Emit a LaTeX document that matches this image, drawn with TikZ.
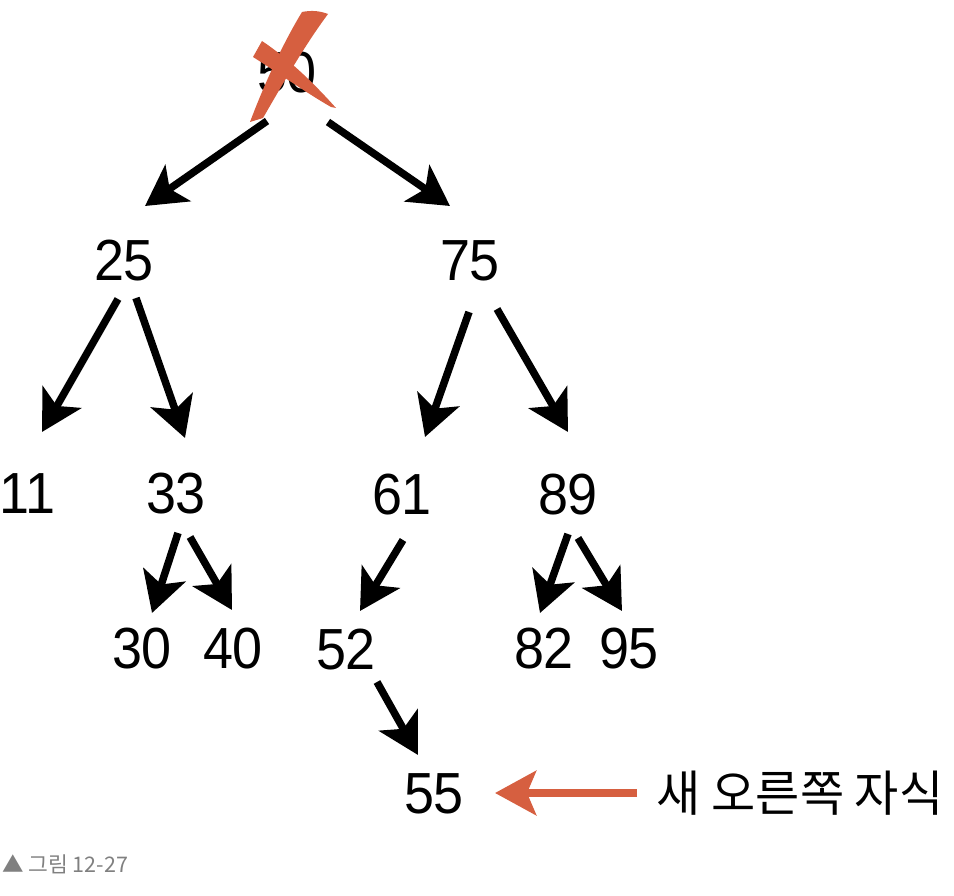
\documentclass[tikz,border=0pt]{standalone}
\usepackage{fontspec}
\usetikzlibrary{arrows.meta,calc}
\newfontfamily\digfont[FakeStretch=0.93]{Liberation Sans}
\newfontfamily\krfont[FakeStretch=0.98]{Noto Sans CJK KR}
\newfontfamily\capfont{Noto Sans CJK KR}
\definecolor{xred}{RGB}{214,95,64}
\definecolor{capgray}{RGB}{128,128,128}
\tikzset{
  num/.style={inner sep=0pt, font=\digfont\fontsize{58}{60}\selectfont},
  arr/.style={line width=7.5pt, -{Stealth[length=40pt,width=44pt,inset=10pt]}},
  redarr/.style={xred, line width=8pt, -{Stealth[length=41pt,width=44pt,inset=9pt]}},
  lbl/.style={inner sep=0pt, font=\krfont\fontsize{49}{52}\selectfont},
  captext/.style={inner sep=0pt, anchor=west, text=capgray, font=\capfont\fontsize{21.5}{23}\selectfont},
}
\begin{document}
\begin{tikzpicture}[x=1pt,y=-1pt]
\useasboundingbox (0,0) rectangle (954,896);
% nodes
\node[num] (n50) at (287,73) {50};
\node[num] (n25) at (124,261) {25};
\node[num] (n75) at (470,261) {75};
\node[num] (n11) at (27,494) {11};
\node[num] (n33) at (176,494) {33};
\node[num] (n61) at (402,495) {61};
\node[num] (n89) at (568,495) {89};
\node[num] (n30) at (142,649) {30};
\node[num] (n40) at (233,649) {40};
\node[num] (n52) at (346,650) {52};
\node[num] (n82) at (544,649) {82};
\node[num] (n95) at (629,649) {95};
\node[num] (n55) at (434,794) {55};
\node[lbl] (lab) at (800,793) {새 오른쪽 자식};
\node[captext] (caption) at (2,864) {▲ 그림 12-27};
% cross over 50
\fill[xred] (302,12) .. controls (312,10) and (320,11) .. (328,14)
  .. controls (305,45) and (285,80) .. (263,118)
  -- (250,122) .. controls (264,85) and (282,45) .. cycle;
\fill[xred] (253,57) -- (262,41) .. controls (286,57) and (311,80) .. (336,108)
  -- (331,107) .. controls (305,92) and (280,74) .. cycle;
% arrows
\draw[arr] ($(n50)+(-20,48)$) -- ($(n25)+(21,-55)$);
\draw[arr] ($(n50)+(41,49)$) -- ($(n75)+(-20,-55)$);
\draw[arr] ($(n25)+(-6,38)$) -- ($(n11)+(15,-62)$);
\draw[arr] ($(n25)+(12,37)$) -- ($(n33)+(9,-56)$);
\draw[arr] ($(n75)+(-1,51)$) -- ($(n61)+(23,-58)$);
\draw[arr] ($(n75)+(27,48)$) -- ($(n89)+(0,-63)$);
\draw[arr] ($(n33)+(2,39)$) -- ($(n30)+(10,-36)$);
\draw[arr] ($(n33)+(14,43)$) -- ($(n40)+(-1,-39)$);
\draw[arr] ($(n61)+(1,45)$) -- ($(n52)+(14,-39)$);
\draw[arr] ($(n89)+(0,39)$) -- ($(n82)+(-4,-36)$);
\draw[arr] ($(n89)+(10,43)$) -- ($(n95)+(-7,-38)$);
\draw[arr] ($(n52)+(31,32)$) -- ($(n55)+(-16,-39)$);
\draw[redarr] ($(lab)+(-163,0)$) -- ($(n55)+(61,-1)$);
\end{tikzpicture}
\end{document}
